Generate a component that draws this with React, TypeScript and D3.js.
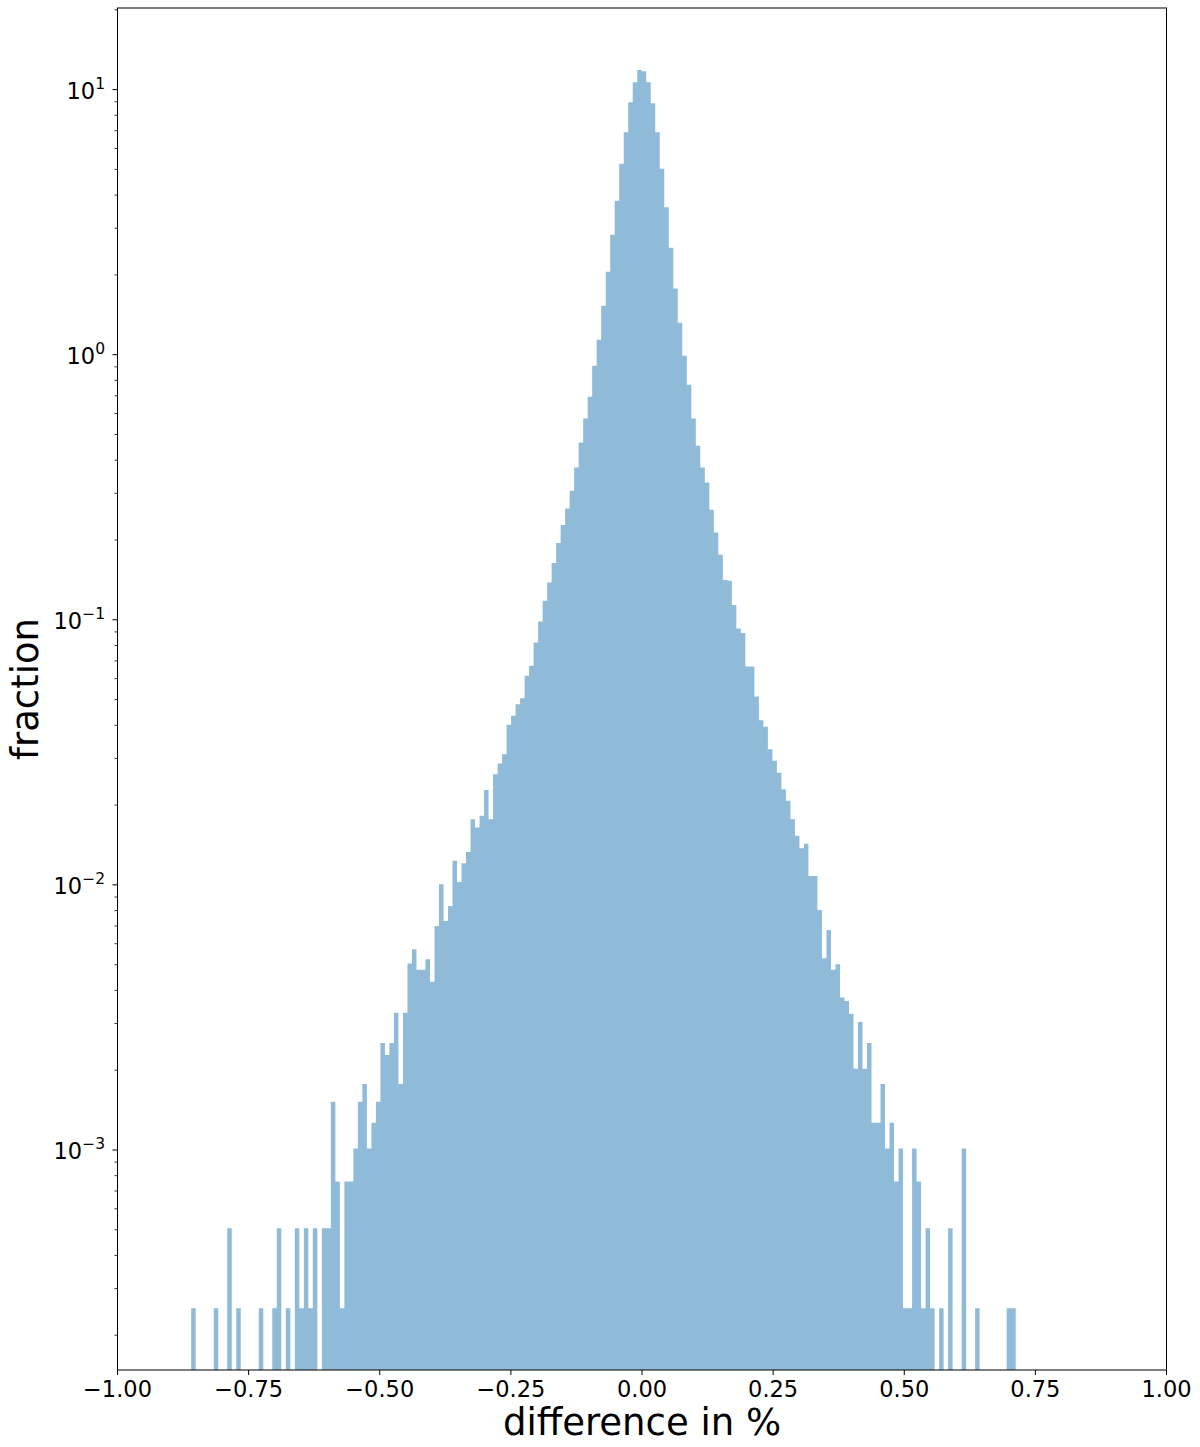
import React from "react";
import * as d3 from "d3";

// Histogram bins: left edge of first bin and bin width (in % difference)
const binStart = -0.8595;
const binWidth = 0.00859;

// Fraction (density) per bin
const fractions: number[] = [
  2.53e-4, 0, 0, 0, 0, 2.53e-4, 0, 0, 5.07e-4, 0,
  2.53e-4, 0, 0, 0, 0, 2.53e-4, 0, 0, 2.53e-4, 5.07e-4,
  0, 2.53e-4, 0, 5.07e-4, 2.53e-4, 5.07e-4, 2.53e-4, 5.07e-4, 0, 5.07e-4,
  5.07e-4, 1.52e-3, 7.6e-4, 2.53e-4, 7.6e-4, 7.6e-4, 1.013e-3, 1.52e-3, 1.773e-3, 1.013e-3,
  1.267e-3, 1.52e-3, 2.53e-3, 2.28e-3, 2.53e-3, 3.29e-3, 1.773e-3, 3.29e-3, 5.05e-3, 5.72e-3,
  4.78e-3, 4.78e-3, 5.24e-3, 4.31e-3, 7.0e-3, 1.006e-2, 7.31e-3, 8.33e-3, 1.232e-2, 1.026e-2,
  1.208e-2, 1.332e-2, 1.77e-2, 1.645e-2, 1.822e-2, 2.278e-2, 1.77e-2, 2.616e-2, 2.869e-2, 3.112e-2,
  4.017e-2, 4.342e-2, 4.807e-2, 5.063e-2, 6.146e-2, 6.706e-2, 8.21e-2, 9.85e-2, 0.1179, 0.1382,
  0.1637, 0.1948, 0.2278, 0.263, 0.3067, 0.3756, 0.4668, 0.5749, 0.694, 0.909,
  1.139, 1.531, 2.057, 2.837, 3.812, 5.258, 6.901, 8.956, 10.66, 11.87,
  11.74, 10.66, 8.878, 6.901, 5.034, 3.596, 2.534, 1.779, 1.321, 0.9913,
  0.7705, 0.5749, 0.4535, 0.3756, 0.3297, 0.2602, 0.2135, 0.1759, 0.1412, 0.1404,
  0.1136, 9.27e-2, 8.91e-2, 6.666e-2, 6.666e-2, 5.135e-2, 4.183e-2, 3.947e-2, 3.251e-2, 2.937e-2,
  2.646e-2, 2.297e-2, 2.075e-2, 1.77e-2, 1.531e-2, 1.376e-2, 1.431e-2, 1.081e-2, 1.081e-2, 8.045e-3,
  5.29e-3, 6.763e-3, 4.78e-3, 5.02e-3, 3.756e-3, 3.65e-3, 3.267e-3, 2.027e-3, 3.04e-3, 2.027e-3,
  2.53e-3, 1.267e-3, 1.267e-3, 1.773e-3, 1.013e-3, 1.267e-3, 7.6e-4, 1.013e-3, 2.53e-4, 2.53e-4,
  1.013e-3, 7.6e-4, 2.53e-4, 5.07e-4, 2.53e-4, 0, 2.53e-4, 0, 5.07e-4, 0,
  0, 1.013e-3, 0, 0, 2.53e-4, 0, 0, 0, 0, 0,
  0, 2.53e-4, 2.53e-4,
];

const xTicks = [-1, -0.75, -0.5, -0.25, 0, 0.25, 0.5, 0.75, 1];
const yMajorExps = [-3, -2, -1, 0, 1];
const yDomain = [1.479e-4, 20.32];

const FONT = "DejaVu Sans, sans-serif";

export default function App() {
  const W = 1200;
  const H = 1447;
  const left = 117.5;
  const right = 1166.5;
  const top = 8;
  const bottom = 1370;

  const x = d3.scaleLinear().domain([-1, 1]).range([left, right]);
  const y = d3.scaleLog().domain(yDomain).range([bottom, top]);
  const fmt = d3.format(".2f");

  const minor: number[] = [];
  for (let e = -4; e <= 1; e++) {
    for (let k = 2; k <= 9; k++) {
      const v = k * Math.pow(10, e);
      if (v >= yDomain[0] && v <= yDomain[1]) minor.push(v);
    }
  }

  const path = d3.path();
  fractions.forEach((v, i) => {
    if (v <= 0) return;
    const x0 = x(binStart + i * binWidth);
    const x1 = x(binStart + (i + 1) * binWidth);
    path.rect(x0, y(v), x1 - x0, bottom - y(v));
  });

  const tickFont = 22.5;
  const supFont = 15.5;

  return (
    <svg
      width={W}
      height={H}
      style={{ position: "absolute", left: 0, top: 0, display: "block", background: "#fff" }}
      fontFamily={FONT}
    >
      <rect x={0} y={0} width={W} height={H} fill="#fff" />
      <path d={path.toString()} fill="#8fbbd9" />
      {/* frame */}
      <rect
        x={left}
        y={top}
        width={right - left}
        height={bottom - top}
        fill="none"
        stroke="#000"
        strokeWidth={1}
      />
      {/* x ticks */}
      {xTicks.map((t) => (
        <g key={t}>
          <line x1={x(t)} x2={x(t)} y1={bottom} y2={bottom + 5} stroke="#000" strokeWidth={1} />
          <text x={x(t)} y={1397} textAnchor="middle" fontSize={tickFont} fill="#000">
            {fmt(t)}
          </text>
        </g>
      ))}
      {/* y minor ticks */}
      {minor.map((v) => (
        <line key={v} x1={left - 3} x2={left} y1={y(v)} y2={y(v)} stroke="#000" strokeWidth={0.8} />
      ))}
      {/* y major ticks */}
      {yMajorExps.map((e) => {
        const v = Math.pow(10, e);
        const yy = y(v);
        return (
          <g key={e}>
            <line x1={left - 5} x2={left} y1={yy} y2={yy} stroke="#000" strokeWidth={1} />
            <text x={105} y={yy + 9} textAnchor="end" fontSize={tickFont} fill="#000">
              <tspan>10</tspan>
              <tspan fontSize={supFont} dy={-10}>
                {e < 0 ? "\u2212" + Math.abs(e) : String(e)}
              </tspan>
            </text>
          </g>
        );
      })}
      {/* axis titles */}
      <text x={(left + right) / 2} y={1435} textAnchor="middle" fontSize={37} fill="#000">
        difference in %
      </text>
      <text
        transform={`translate(38, ${(top + bottom) / 2}) rotate(-90)`}
        textAnchor="middle"
        fontSize={37}
        fill="#000"
      >
        fraction
      </text>
    </svg>
  );
}
